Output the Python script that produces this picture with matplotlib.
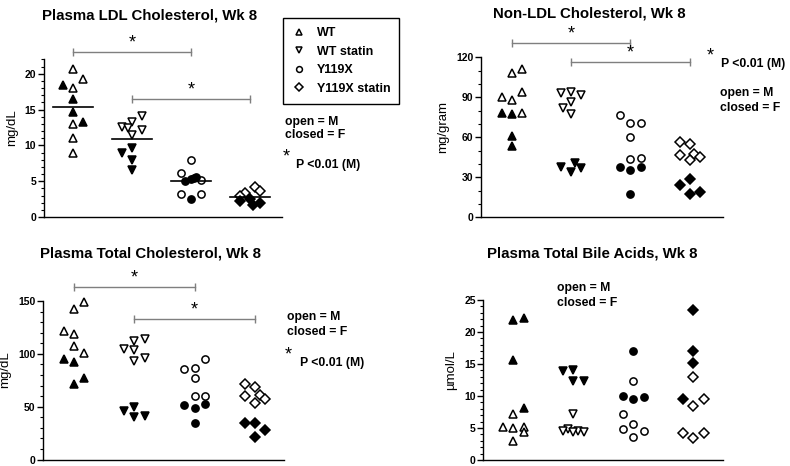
import numpy as np
import matplotlib
matplotlib.use("Agg")
import matplotlib.pyplot as plt
from matplotlib.lines import Line2D
from matplotlib.ticker import FixedLocator

plt.rcParams['font.family'] = ['Liberation Sans', 'DejaVu Sans']

groups = ["WT", "WT statin", "Y119X", "Y119X statin"]
group_markers = ['^', 'v', 'o', 'D']

# ---------------- data (open = male, closed = female) ----------------
ldl_male = [[20.7, 19.3, 18.0, 13.0, 11.0, 8.9],
            [14.1, 13.2, 12.6, 12.5, 12.2, 11.5],
            [8.0, 6.1, 5.5, 5.2, 3.2, 3.2],
            [4.2, 3.6, 3.3, 3.0]]
ldl_female = [[18.4, 16.5, 14.6, 13.3],
              [9.7, 8.9, 8.0, 6.6],
              [5.6, 5.3, 5.0, 2.5],
              [2.5, 2.2, 2.0, 1.7]]
ldl_male_jit = [[0, 1, 0, 0, 0, 0], [1, 0, -1, -0.4, 1, 0], [0, -1, 0.3, 1, -1, 1], [0.5, 1, -0.5, -1]]
ldl_female_jit = [[-1, 0, 0, 1], [0, -1, 0, 0], [0.5, 0, -0.6, 0], [0, -1, 1, 0.3]]

nonldl_male = [[111, 108, 94, 90.5, 88, 78],
               [94, 93.5, 92, 86.7, 81.7, 77.2],
               [76.7, 70.5, 70.5, 60, 44.3, 43.5],
               [56.7, 54.7, 47.5, 46.7, 45.5, 43]]
nonldl_female = [[78.5, 77.2, 61, 53.5],
                 [41, 38, 36.7, 34.2],
                 [38, 37.5, 35.5, 17.5],
                 [28.7, 24.2, 18.8, 17.5]]
nonldl_male_jit = [[1, 0, 1, -1, 0, 1], [0, -1, 1, 0, -0.8, 0], [-1, 0, 1, 0, 1, 0], [-1, 0, 0.4, -1, 1, 0]]
nonldl_female_jit = [[-1, 0, 0, 0], [0.4, -1, 1, 0], [1, -1, 0, 0], [0, -1, 1, 0]]

total_male = [[149.3, 142, 121.9, 118.7, 107.4, 100.5],
              [114, 112.4, 104.5, 103.6, 95.7, 93.5],
              [95, 86.3, 85.3, 77.4, 60.4, 60],
              [71.4, 68.9, 61, 60, 57.2, 53.2]]
total_female = [[94.8, 92, 76.8, 71.1],
                [50, 45.9, 41.2, 40.5],
                [52.2, 51.6, 49, 34.2],
                [34.8, 34.2, 27.9, 21]]
total_male_jit = [[1, 0, -1, 0, 0, 1], [1, 0, -1, 0, 1, 0], [1, 0, -1, 0, 1, 0], [-1, 0, 0.5, -1, 1, 0]]
total_female_jit = [[-1, 0, 1, 0], [0, -1, 1, 0], [1, -1, 0, 0], [-1, 0, 1, 0]]

bile_male = [[7.2, 5.2, 5.1, 4.95, 4.4, 3.0],
             [7.2, 4.8, 4.5, 4.5, 4.4, 4.3],
             [12.4, 7.2, 5.6, 4.8, 4.5, 3.65],
             [13.0, 9.5, 8.5, 4.2, 4.2, 3.5]]
bile_female = [[22.2, 21.8, 15.7, 8.1],
               [14.1, 13.9, 12.3, 12.3],
               [17.1, 10.0, 9.9, 9.5],
               [23.5, 17.0, 15.1, 9.5]]
bile_male_jit = [[0, 1, -1, 0, 1, 0], [0, -0.5, -1, 0.5, 1, 0], [0, -1, 0, -1, 1, 0], [0, 1, 0, -1, 1, 0]]
bile_female_jit = [[1, 0, 0, 1], [0, -1, 0, 1], [0, -1, 1, 0], [0, 0, 0, -1]]

ldl_brackets = [(1, 3, 23.0), (2, 4, 16.5)]
nonldl_brackets = [(1, 3, 130.5), (2, 4, 116.7)]
total_brackets = [(1, 3, 162.9), (2, 4, 132.6)]

W, H = 790, 466
fig = plt.figure(figsize=(W / 100, H / 100), dpi=100)


def make_ax(left, right, y0, ytop_px):
    return fig.add_axes([left / W, (H - y0) / H, (right - left) / W, (y0 - ytop_px) / H])


def panel(ax, ylabel, male, female, mjit, fjit, ylim, ytop, major, minor,
          xlim, brackets=None, meanline=False, spine_top=None):
    ax.set_xlim(*xlim)
    ax.set_ylim(*ylim)
    for g in range(4):
        mk = group_markers[g]
        ms = 5.6 if mk in ('^', 'v') else (5.2 if mk == 'o' else 4.8)
        xm = [g + 1 + 0.17 * j for j in mjit[g]]
        xf = [g + 1 + 0.17 * j for j in fjit[g]]
        ax.plot(xm, male[g], ls='none', marker=mk, ms=ms, mfc='white', mec='black', mew=1.1, clip_on=False, zorder=3)
        ax.plot(xf, female[g], ls='none', marker=mk, ms=ms, mfc='black', mec='black', mew=1.1, clip_on=False, zorder=3)
        if meanline:
            m = np.mean(list(male[g]) + list(female[g]))
            ax.plot([g + 1 - 0.34, g + 1 + 0.34], [m, m], color='black', lw=1.2, zorder=4)
    if brackets:
        for a, b, y in brackets:
            ax.plot([a, b], [y, y], color='#7f7f7f', lw=1.0, marker='|', ms=6, mew=1.0, clip_on=False)
            ax.annotate('*', xy=((a + b) / 2, y), xytext=(0, 0.5), textcoords='offset points',
                        ha='center', va='bottom', fontsize=13, annotation_clip=False)
    for s in ('top', 'right'):
        ax.spines[s].set_visible(False)
    st = spine_top if spine_top is not None else ytop
    ax.spines['left'].set_bounds(0, st)
    ax.spines['left'].set_linewidth(1.0)
    ax.spines['bottom'].set_linewidth(1.0)
    ax.set_xticks([])
    ax.set_yticks(np.arange(0, ytop + 0.001, major))
    minors = [v for v in np.arange(0, st + 0.001, minor) if abs(v / major - round(v / major)) > 1e-6]
    ax.yaxis.set_minor_locator(FixedLocator(minors))
    ax.tick_params(axis='y', which='major', length=4, width=1.0, labelsize=7.5, pad=1.5)
    ax.tick_params(axis='y', which='minor', length=2, width=0.8)
    for lab in ax.get_yticklabels():
        lab.set_fontweight('bold')
    ax.set_ylabel(ylabel, fontsize=9.5, labelpad=5)
    ax.patch.set_visible(False)


ax1 = make_ax(44, 282, 217, 38)
panel(ax1, "mg/dL", ldl_male, ldl_female, ldl_male_jit, ldl_female_jit,
      (0, 25), 20, 5, 1, (0.508, 4.54), ldl_brackets, meanline=True, spine_top=22)

ax2 = make_ax(481, 723, 217.3, 37.3)
panel(ax2, "mg/gram", nonldl_male, nonldl_female, nonldl_male_jit, nonldl_female_jit,
      (0, 135), 120, 30, 10, (0.482, 4.56), nonldl_brackets)

ax3 = make_ax(43, 284, 459.5, 279.8)
panel(ax3, "mg/dL", total_male, total_female, total_male_jit, total_female_jit,
      (0, 170), 150, 50, 10, (0.486, 4.48), total_brackets)

ax4 = make_ax(483.3, 723, 460, 280.8)
panel(ax4, "\u00b5mol/L", bile_male, bile_female, bile_male_jit, bile_female_jit,
      (0, 28), 25, 5, 1, (0.5, 4.495))


def ftext(x, y, s, **kw):
    fig.text(x / W, 1 - y / H, s, **kw)


ftext(150, 15, "Plasma LDL Cholesterol, Wk 8", ha='center', va='center', fontsize=10.8, fontweight='bold')
ftext(589, 13, "Non-LDL Cholesterol, Wk 8", ha='center', va='center', fontsize=10.8, fontweight='bold')
ftext(150, 254, "Plasma Total Cholesterol, Wk 8", ha='center', va='center', fontsize=10.8, fontweight='bold')
ftext(592, 254, "Plasma Total Bile Acids, Wk 8", ha='center', va='center', fontsize=10.8, fontweight='bold')

# legend
handles = [Line2D([], [], ls='none', marker=m, ms=4.2 if m != 'D' else 3.8, mfc='white', mec='black', mew=1.1)
           for m in group_markers]
leg = fig.legend(handles, groups, loc='upper left', bbox_to_anchor=(282.7 / W, 1 - 18.3 / H),
                 frameon=True, fancybox=False, edgecolor='black', framealpha=1,
                 prop={'size': 9.0, 'weight': 'bold'}, handlelength=1.2, handletextpad=0.8,
                 labelspacing=0.52, borderpad=0.72, borderaxespad=0)
leg.get_frame().set_linewidth(1.0)

note_kw = dict(fontsize=8.8, fontweight='bold', va='center', ha='left')
# LDL notes
ftext(285, 121.7, "open = M", **note_kw)
ftext(285, 135.5, "closed = F", **note_kw)
ftext(283, 157, "*", fontsize=13, va='center', ha='left')
ftext(296.5, 165, "P <0.01 (M)", **note_kw)
# Non-LDL notes
ftext(707, 56, "*", fontsize=13, va='center', ha='left')
ftext(721, 64.5, "P <0.01 (M)", **note_kw)
ftext(720, 93.3, "open = M", **note_kw)
ftext(720, 108.3, "closed = F", **note_kw)
# Total notes
ftext(286.7, 317.3, "open = M", **note_kw)
ftext(286.7, 331.7, "closed = F", **note_kw)
ftext(285, 355, "*", fontsize=13, va='center', ha='left')
ftext(300, 362.7, "P <0.01 (M)", **note_kw)
# Bile notes
ftext(556.7, 288.3, "open = M", **note_kw)
ftext(556.7, 302.7, "closed = F", **note_kw)

fig.savefig("out.png", dpi=100)
